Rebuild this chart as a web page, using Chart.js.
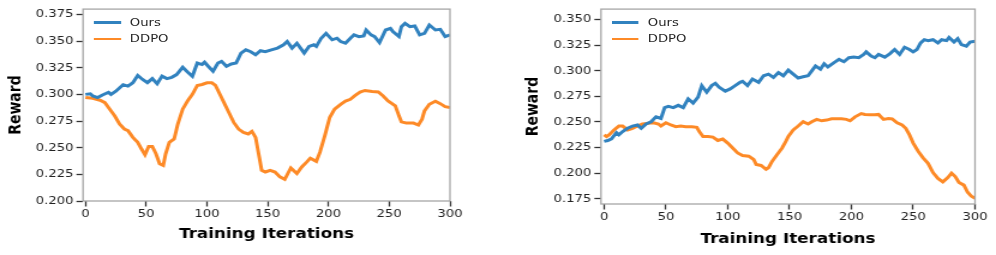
<!DOCTYPE html>
<html>
<head>
<meta charset="utf-8">
<script src="https://cdn.jsdelivr.net/npm/chart.js@4/dist/chart.umd.min.js"></script>
<style>
  html, body { margin: 0; padding: 0; background: #fff; overflow: hidden; }
  /* the source figure is stretched sideways, so draw at 830px and widen by 1.2 */
  #wrap { position: absolute; left: 0; top: 0; width: 830px; height: 255px; transform: scaleX(1.2); transform-origin: 0 0; }
  .box { position: absolute; top: 0; height: 255px; }
  .leg { position: absolute; font: 11px "DejaVu Sans"; color: #262626; white-space: nowrap; }
  .leg span.l { position: absolute; height: 2.5px; }
  .leg span.t { position: absolute; line-height: 13px; }
</style>
</head>
<body>
<div id="wrap">
  <div class="box" style="left:0;width:410px"><canvas id="chartA"></canvas></div>
  <div class="box" style="left:415px;width:415px"><canvas id="chartB"></canvas></div>
</div>
<script>
// left panel
const leftOursIter = [0,4,6,10,14,19,21,25,31,35,39,43,47,51,55,59,63,67,71,75,80,84,88,92,96,98,101,105,109,112,116,120,124,128,132,136,140,144,148,153,158,163,166,170,174,177,180,184,188,190,194,198,203,207,210,214,218,221,225,229,231,235,238,242,247,251,253,258,260,263,267,271,275,279,283,288,292,296,300];
const leftOurs = [.300,.3006,.2985,.297,.2994,.302,.300,.303,.309,.3078,.311,.3177,.314,.311,.3148,.310,.3171,.3148,.316,.3186,.3254,.321,.317,.3294,.328,.3303,.3264,.3217,.3294,.331,.3264,.3285,.3294,.3387,.3418,.340,.3372,.341,.340,.3418,.3434,.3465,.3496,.3434,.348,.3434,.3387,.345,.3465,.345,.3527,.3573,.3512,.3527,.3496,.348,.3527,.3558,.3542,.3549,.3604,.3558,.3542,.3486,.3604,.3619,.3589,.3542,.3635,.3666,.3635,.3642,.3558,.3573,.3651,.3604,.361,.3542,.3558];
const leftDdpoIter = [0,6,12,16,20,24,28,32,35,39,43,46,49,52,55,58,61,64,66,69,73,76,80,84,88,92,96,100,104,107,110,114,118,122,126,130,134,137,140,143,145,148,152,156,160,164,169,174,178,182,185,190,193,197,201,205,210,214,218,222,226,230,236,241,245,249,255,258,260,264,270,274,277,279,283,288,292,296,300];
const leftDdpo = [.297,.2963,.2945,.2923,.2861,.2799,.2722,.2675,.266,.2597,.2551,.249,.2434,.2511,.2511,.2443,.235,.2334,.2443,.2551,.2582,.2722,.2861,.2938,.300,.3084,.3093,.3108,.3108,.3084,.3015,.2923,.283,.2737,.2675,.2644,.2629,.2653,.2597,.2412,.2288,.2272,.2288,.2272,.2226,.2204,.231,.2257,.2319,.2365,.2402,.2372,.2458,.2613,.2783,.2861,.2907,.2938,.2954,.2991,.3022,.3037,.3028,.3022,.2985,.2938,.2892,.2799,.2743,.2731,.2731,.2713,.2768,.2845,.2907,.2935,.2913,.2885,.2876];
const leftYTicks = [0.200, 0.225, 0.250, 0.275, 0.300, 0.325, 0.350, 0.375];

// right panel
const rightOursIter = [0,3,6,10,12,15,19,23,27,30,34,38,42,46,49,52,56,60,64,68,72,76,79,83,87,90,93,98,102,106,110,112,116,120,125,129,133,137,141,145,149,153,157,161,165,168,171,175,178,181,186,190,194,198,202,206,210,212,216,219,222,227,231,235,239,243,247,250,253,256,259,262,266,270,273,277,279,283,286,289,293,296,300];
const rightOurs = [.231,.2319,.2335,.2396,.2374,.2406,.2438,.246,.247,.2438,.248,.2502,.255,.2534,.264,.2652,.264,.2662,.264,.2726,.2684,.2742,.2854,.279,.2854,.2876,.2838,.28,.2822,.2854,.2886,.2896,.2854,.2918,.2886,.295,.2966,.2934,.2982,.295,.3005,.2966,.2928,.294,.295,.2998,.3046,.3014,.3068,.3036,.3078,.311,.3087,.3126,.3132,.3126,.3158,.3183,.3142,.3126,.3158,.3132,.3164,.3206,.3158,.3228,.3206,.3183,.3206,.327,.3302,.3293,.3302,.327,.3302,.3293,.3324,.3279,.3312,.3254,.3238,.3279,.3286];
const rightDdpoIter = [0,2,4,8,12,15,19,23,27,31,35,40,44,46,50,54,58,62,66,71,75,77,80,84,88,92,96,100,104,108,112,117,121,123,127,131,133,136,140,144,147,149,153,157,161,165,168,172,176,180,184,188,192,196,199,203,208,211,215,219,222,226,230,233,237,241,244,247,250,254,258,262,266,270,274,278,281,284,287,291,294,297,300];
const rightDdpo = [.2374,.2358,.2374,.2422,.246,.246,.2422,.2438,.246,.248,.2486,.2492,.248,.246,.2492,.247,.2454,.246,.2454,.2454,.2448,.2406,.2358,.2358,.2352,.2319,.2333,.2294,.2246,.2198,.2172,.2166,.2134,.2086,.2076,.2038,.2054,.2118,.2182,.2246,.231,.2358,.2422,.246,.2502,.248,.2502,.2525,.2511,.2518,.253,.253,.253,.2525,.2511,.255,.2582,.2573,.2569,.2569,.2573,.2525,.2534,.253,.2492,.247,.2438,.2374,.2294,.2214,.215,.2096,.2006,.1949,.1916,.1958,.200,.1968,.191,.1884,.1814,.1776,.1757];
const rightYTicks = [0.175, 0.200, 0.225, 0.250, 0.275, 0.300, 0.325, 0.350];

const xTicks = [0, 50, 100, 150, 200, 250, 300];
const seriesNames = ["Ours", "DDPO"];
const xTitle = "Training Iterations";
const yTitle = "Reward";

const BLUE = "#3182bf";
const ORANGE = "#fd8a27";
const FONT = "DejaVu Sans";

function pairs(xs, ys) {
  return xs.map((x, i) => ({ x: x, y: ys[i] }));
}

// grey box round the plot area, like the matplotlib spines
const frame = {
  id: "frame",
  afterDraw(chart) {
    const { ctx, chartArea: a } = chart;
    ctx.save();
    ctx.strokeStyle = "#a6a6a6";
    ctx.lineWidth = 1.3;
    ctx.strokeRect(a.left, a.top, a.right - a.left, a.bottom - a.top);
    ctx.restore();
  },
};

function addLegend(chart, boxLeft) {
  const a = chart.chartArea;
  chart.data.datasets.forEach((ds, i) => {
    const cy = a.top + 13.5 + i * 16.5;
    const div = document.createElement("div");
    div.className = "leg";
    div.style.left = (boxLeft + a.left + 9) + "px";
    div.style.top = cy + "px";
    div.innerHTML =
      '<span class="l" style="left:0;width:22.5px;top:-1.25px;background:' + ds.borderColor + '"></span>' +
      '<span class="t" style="left:30px;top:-7px">' + ds.label + "</span>";
    document.getElementById("wrap").appendChild(div);
  });
}

function makeChart(id, g) {
  const chart = new Chart(document.getElementById(id), {
    type: "line",
    data: {
      datasets: [
        { label: seriesNames[0], data: pairs(g.oursIter, g.ours), borderColor: BLUE, borderWidth: 3, pointRadius: 0, tension: 0 },
        { label: seriesNames[1], data: pairs(g.ddpoIter, g.ddpo), borderColor: ORANGE, borderWidth: 3, pointRadius: 0, tension: 0 },
      ],
    },
    options: {
      responsive: true,
      maintainAspectRatio: false,
      animation: false,
      layout: { padding: { top: 7, right: g.padRight, left: 0, bottom: 0 } },
      plugins: { legend: { display: false }, tooltip: { enabled: false } },
      scales: {
        x: {
          type: "linear",
          min: g.xMin,
          max: 300,
          afterFit: s => { s.height = g.xHeight; },
          afterBuildTicks: s => { s.ticks = xTicks.map(v => ({ value: v })); },
          border: { display: false },
          grid: { drawOnChartArea: false, tickLength: 5.5, tickWidth: 1.3, tickColor: "#333" },
          ticks: { autoSkip: false, maxRotation: 0, padding: 1, color: "#222", font: { family: FONT, size: 11 } },
          title: { display: true, text: xTitle, color: "#000", padding: { top: 0, bottom: g.xTitlePad }, font: { family: FONT, size: 14, weight: "bold" } },
        },
        y: {
          min: g.yMin,
          max: g.yMax,
          afterFit: s => { s.width = g.yWidth; },
          afterBuildTicks: s => { s.ticks = g.yTicks.map(v => ({ value: v })); },
          border: { display: false },
          grid: { drawOnChartArea: false, tickLength: 5.5, tickWidth: 1.3, tickColor: "#333" },
          ticks: { autoSkip: false, padding: 2.5, color: "#222", font: { family: FONT, size: 11 }, callback: v => v.toFixed(3) },
          title: { display: true, text: yTitle, color: "#000", padding: { top: g.yTitlePad, bottom: 0 }, font: { family: FONT, size: 14, weight: "bold" } },
        },
      },
    },
    plugins: [frame],
  });
  addLegend(chart, g.boxLeft);
  return chart;
}

makeChart("chartA", {
  oursIter: leftOursIter, ours: leftOurs, ddpoIter: leftDdpoIter, ddpo: leftDdpo,
  xMin: -2, yMin: 0.2, yMax: 0.38, yTicks: leftYTicks,
  padRight: 35, yWidth: 69.2, xHeight: 54, yTitlePad: 5, xTitlePad: 12, boxLeft: 0,
});

makeChart("chartB", {
  oursIter: rightOursIter, ours: rightOurs, ddpoIter: rightDdpoIter, ddpo: rightDdpo,
  xMin: -2.5, yMin: 0.17, yMax: 0.36, yTicks: rightYTicks,
  padRight: 17.5, yWidth: 85.8, xHeight: 51, yTitlePad: 20.8, xTitlePad: 7, boxLeft: 415,
});
</script>
</body>
</html>
